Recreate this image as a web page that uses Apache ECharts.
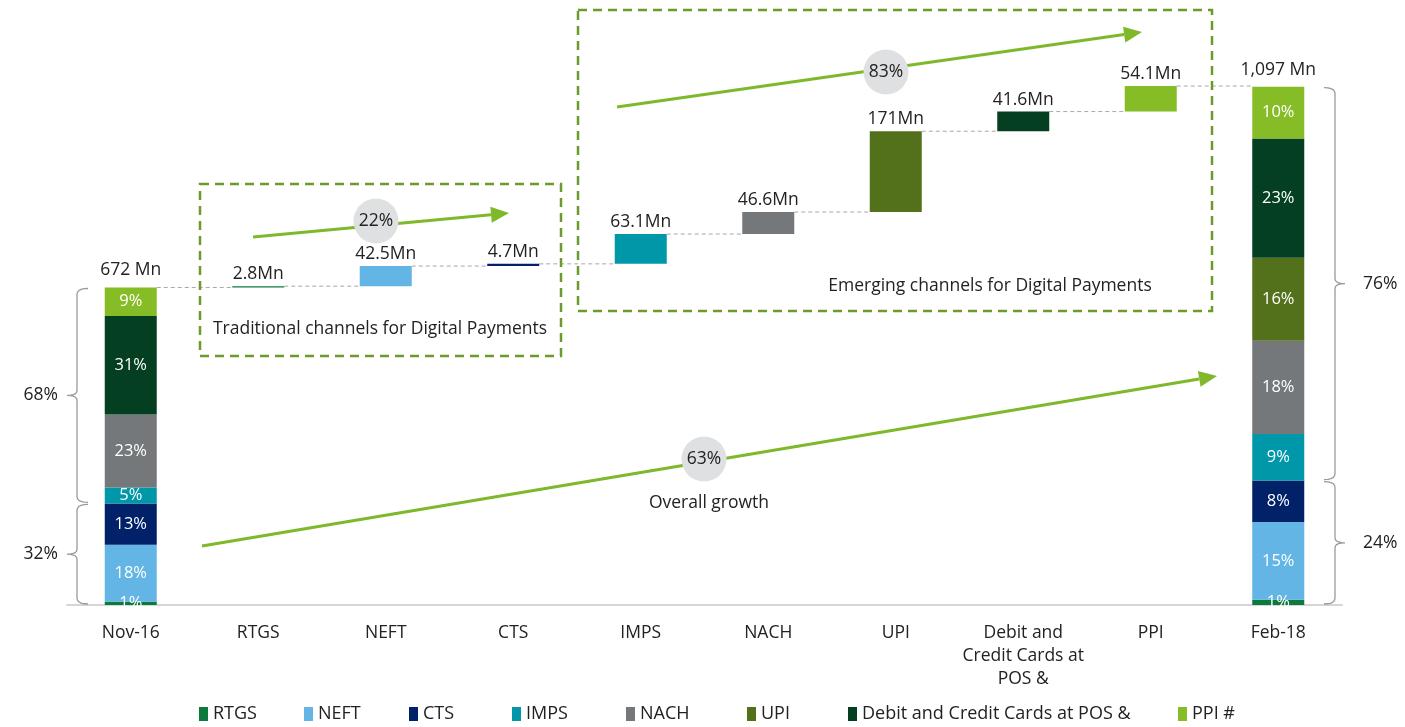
<!DOCTYPE html>
<html>
<head>
<meta charset="utf-8">
<script src="https://cdn.jsdelivr.net/npm/echarts@6/dist/echarts.min.js"></script>
<style>
  html, body { margin: 0; padding: 0; background: #fff; }
  #chart { width: 1405px; height: 727px; }
</style>
</head>
<body>
<div id="chart"></div>
<script>
// categories on the x axis
const categories = ["Nov-16", "RTGS", "NEFT", "CTS", "IMPS", "NACH", "UPI", "Debit and Credit Cards at POS &", "PPI", "Feb-18"];
// payment channels (legend / stack order bottom -> top)
const channels = ["RTGS", "NEFT", "CTS", "IMPS", "NACH", "UPI", "Debit and Credit Cards at POS &", "PPI #"];
const channelColors = ["#0c7a3d", "#62b5e5", "#012169", "#0097a9", "#75787b", "#53711b", "#043f21", "#86bc25"];

// totals (Mn transactions)
const startTotal = 672;
const endTotal = 1097;
const startTotalLabel = "672 Mn";
const endTotalLabel = "1,097 Mn";
// share of each channel (%)
const startShare = [1, 18, 13, 5, 23, 0, 31, 9];
const endShare = [1, 15, 8, 9, 18, 16, 23, 10];
// increase per channel Nov-16 -> Feb-18 (Mn)
const increments = [2.8, 42.5, 4.7, 63.1, 46.6, 171, 41.6, 54.1];
const incrementLabels = ["2.8Mn", "42.5Mn", "4.7Mn", "63.1Mn", "46.6Mn", "171Mn", "41.6Mn", "54.1Mn"];
// traditional / emerging split (%)
const startGroups = [32, 68];
const endGroups = [24, 76];
const growthLabels = ["22%", "83%", "63%"];

const FONT = "Open Sans";
const BAR_W = 52;
const TXT = "#222";
const FS = 17.5;

// running level of the waterfall
const levels = [];
const baseData = ["-"];
let run = startTotal;
increments.forEach((v) => {
  levels.push(run);
  baseData.push(run);
  run += v;
});
levels.push(run);
baseData.push("-");

const series = [
  {
    name: "base",
    type: "bar",
    stack: "w",
    barWidth: BAR_W,
    silent: true,
    itemStyle: { color: "transparent" },
    data: baseData,
  },
];

channels.forEach((name, i) => {
  const data = categories.map(() => "-");
  const shareLabel = (v) => ({
    show: v > 0,
    position: "inside",
    formatter: v + "%",
    color: "#fff",
    fontSize: 16.5,
    fontFamily: FONT,
  });
  data[0] = { value: (startTotal * startShare[i]) / 100, label: shareLabel(startShare[i]) };
  data[9] = { value: (endTotal * endShare[i]) / 100, label: shareLabel(endShare[i]) };
  data[i + 1] = {
    value: increments[i],
    label: {
      show: true,
      position: "top",
      distance: 3,
      formatter: incrementLabels[i],
      color: TXT,
      fontSize: FS,
      fontFamily: FONT,
    },
  };
  series.push({
    name: name,
    type: "bar",
    stack: "w",
    barWidth: BAR_W,
    itemStyle: { color: channelColors[i] },
    data: data,
  });
});

// total labels above the two stacked columns
const totalData = categories.map(() => "-");
const totalLabel = (txt) => ({ show: true, position: "top", distance: 8, formatter: txt, color: TXT, fontSize: FS, fontFamily: FONT });
totalData[0] = { value: startTotal, label: totalLabel(startTotalLabel) };
totalData[9] = { value: endTotal, label: totalLabel(endTotalLabel) };
series.push({
  type: "scatter",
  symbolSize: 0,
  silent: true,
  itemStyle: { color: "transparent", opacity: 1 },
  data: totalData,
  z: 5,
});

// dashed connectors between bars
series.push({
  type: "custom",
  silent: true,
  z: 1,
  data: levels.map((v, i) => [i, v]),
  renderItem(params, api) {
    const a = api.coord([api.value(0), api.value(1)]);
    const b = api.coord([api.value(0) + 1, api.value(1)]);
    return {
      type: "line",
      shape: { x1: a[0] + BAR_W / 2, y1: a[1], x2: b[0] - BAR_W / 2, y2: b[1] },
      style: { stroke: "#a8a8a8", lineWidth: 1, lineDash: [4, 3] },
    };
  },
});

const legendX = [199, 304, 409, 512, 626, 747, 848, 1178];
const legends = channels.map((name, i) => ({
  data: [name],
  left: legendX[i],
  top: 705,
  padding: 0,
  icon: "rect",
  itemWidth: 9,
  itemHeight: 14,
  selectedMode: false,
  textStyle: { color: TXT, fontSize: 18, fontFamily: FONT },
}));

const chart = echarts.init(document.getElementById("chart"));
chart.setOption({
  animation: false,
  textStyle: { fontFamily: FONT },
  grid: { left: 67, right: 63, top: 38, bottom: 122 },
  legend: legends,
  xAxis: {
    type: "category",
    data: categories,
    axisTick: { show: false },
    axisLine: { lineStyle: { color: "#d6d6d6", width: 2 } },
    axisLabel: {
      color: TXT,
      fontSize: FS,
      fontFamily: FONT,
      margin: 17,
      lineHeight: 23,
      interval: 0,
      formatter: (v) => (v.startsWith("Debit") ? "Debit and\nCredit Cards at\nPOS &" : v),
    },
  },
  yAxis: { type: "value", min: 0, max: 1200, show: false },
  series: series,
});

// ---- annotations ----
const GREEN = "#7fb82a";
const BOX = "#6b9b2b";
const BRACE = "#9a9a9a";

function arrow(x1, y1, x2, y2) {
  const ang = Math.atan2(y2 - y1, x2 - x1);
  const len = 18, hw = 8;
  const bx = x2 - len * Math.cos(ang), by = y2 - len * Math.sin(ang);
  const nx = -Math.sin(ang) * hw, ny = Math.cos(ang) * hw;
  return [
    { type: "line", shape: { x1, y1, x2: bx, y2: by }, style: { stroke: GREEN, lineWidth: 3 }, z: 10 },
    { type: "polygon", shape: { points: [[x2, y2], [bx + nx, by + ny], [bx - nx, by - ny]] }, style: { fill: GREEN }, z: 10 },
  ];
}
function bubble(cx, cy, txt) {
  return [
    { type: "circle", shape: { cx, cy, r: 22.5 }, style: { fill: "#dfe0e2" }, z: 11 },
    { type: "text", x: cx, y: cy, style: { text: txt, fill: TXT, font: FS + "px " + FONT, align: "center", verticalAlign: "middle" }, z: 12 },
  ];
}
function box(x, y, w, h) {
  return { type: "rect", shape: { x, y, width: w, height: h }, style: { fill: "none", stroke: BOX, lineWidth: 2.5, lineDash: [9, 6] }, z: 9 };
}
function label(x, y, txt, align) {
  return { type: "text", x, y, style: { text: txt, fill: TXT, font: FS + "px " + FONT, align: align || "center", verticalAlign: "middle" }, z: 12 };
}
// quadratic curve sampled into points
function quad(p0, c, p1) {
  const pts = [];
  for (let t = 0; t <= 1.0001; t += 0.2) {
    const u = 1 - t;
    pts.push([u * u * p0[0] + 2 * u * t * c[0] + t * t * p1[0], u * u * p0[1] + 2 * u * t * c[1] + t * t * p1[1]]);
  }
  return pts;
}
// curly brace: dir -1 -> tip points left, +1 -> tip points right
function brace(xv, y1, y2, dir) {
  const hx = xv - dir * 11, tx = xv + dir * 10, ym = (y1 + y2) / 2;
  const pts = [].concat(
    quad([hx, y1], [xv, y1], [xv, y1 + 6]),
    quad([xv, ym - 5], [xv, ym], [tx, ym]),
    quad([tx, ym], [xv, ym], [xv, ym + 5]),
    quad([xv, y2 - 6], [xv, y2], [hx, y2])
  );
  return { type: "polyline", shape: { points: pts }, style: { fill: null, stroke: BRACE, lineWidth: 1.3 }, z: 8 };
}

const py = (v) => chart.convertToPixel({ gridIndex: 0 }, [0, v])[1];
const sTop = py(startTotal), sSplit = py((startTotal * startGroups[0]) / 100), sBot = py(0);
const eTop = py(endTotal), eSplit = py((endTotal * endGroups[0]) / 100), eBot = py(0);

const graphics = [
  box(200, 184, 361, 172),
  box(578, 10, 634, 301),
  label(380, 329, "Traditional channels for Digital Payments"),
  label(990, 286, "Emerging channels for Digital Payments"),
  label(709, 503, "Overall growth"),
  ...arrow(253, 237, 509, 213),
  ...arrow(617, 107, 1142, 32),
  ...arrow(202, 546, 1217, 376),
  ...bubble(376, 221, growthLabels[0]),
  ...bubble(886, 72, growthLabels[1]),
  ...bubble(704, 459, growthLabels[2]),
  brace(77, sTop + 1, sSplit - 1, -1),
  brace(77, sSplit + 1, sBot - 1, -1),
  label(58, (sTop + sSplit) / 2, startGroups[1] + "%", "right"),
  label(58, (sSplit + sBot) / 2, startGroups[0] + "%", "right"),
  brace(1335, eTop + 1, eSplit - 1, 1),
  brace(1335, eSplit + 1, eBot - 1, 1),
  label(1363, (eTop + eSplit) / 2, endGroups[1] + "%", "left"),
  label(1363, (eSplit + eBot) / 2, endGroups[0] + "%", "left"),
];
chart.setOption({ graphic: graphics });
</script>
</body>
</html>
